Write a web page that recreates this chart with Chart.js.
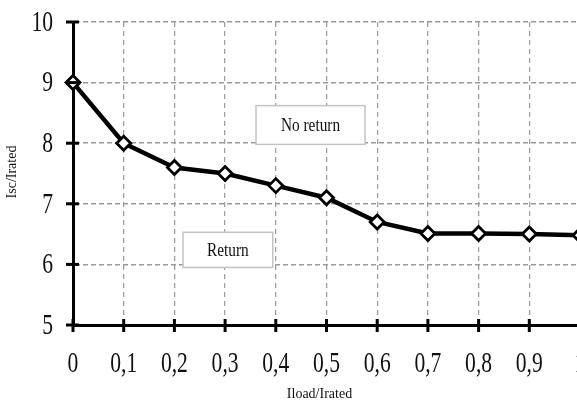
<!DOCTYPE html>
<html>
<head>
<meta charset="utf-8">
<script src="https://cdn.jsdelivr.net/npm/chart.js@4"></script>
<style>
  html, body { margin: 0; padding: 0; background: #fff; overflow: hidden; }
  #wrap { width: 600px; height: 403px; }
</style>
</head>
<body>
<div id="wrap"><canvas id="chart" width="600" height="403"></canvas></div>
<script>
const loadRatio = [0, 0.1, 0.2, 0.3, 0.4, 0.5, 0.6, 0.7, 0.8, 0.9, 1.0];
const iscRatio = [9, 8, 7.6, 7.5, 7.3, 7.1, 6.7, 6.51, 6.51, 6.5, 6.48];
const xTitle = 'Iload/Irated';
const yTitle = 'Isc/Irated';
const regionLabels = ['No return', 'Return'];

const serif = '"Liberation Serif", "DejaVu Serif", serif';

function fmtX(v) {
  if (Math.abs(v) < 1e-9) return '0';
  if (Math.abs(v - 1) < 1e-9) return '1';
  return v.toFixed(1).replace('.', ',');
}

// ticks crossing axes, condensed tick labels, titles and region boxes
const decor = {
  id: 'decor',
  afterDraw(chart) {
    const { ctx, chartArea: a, scales: { x, y } } = chart;
    ctx.save();

    // region boxes
    const boxes = [
      { text: regionLabels[0], x0: 0.361, x1: 0.576, y0: 8.62, y1: 7.98 },
      { text: regionLabels[1], x0: 0.217, x1: 0.394, y0: 6.53, y1: 5.95 }
    ];
    boxes.forEach(b => {
      const l = x.getPixelForValue(b.x0), r = x.getPixelForValue(b.x1);
      const t = y.getPixelForValue(b.y0), btm = y.getPixelForValue(b.y1);
      ctx.fillStyle = '#fff';
      ctx.fillRect(l, t, r - l, btm - t);
      ctx.strokeStyle = '#c4c4c4';
      ctx.lineWidth = 1.5;
      ctx.setLineDash([]);
      ctx.strokeRect(l, t, r - l, btm - t);
      ctx.fillStyle = '#111';
      ctx.font = '17px ' + serif;
      ctx.textAlign = 'center';
      ctx.textBaseline = 'middle';
      ctx.save();
      ctx.translate((l + r) / 2, (t + btm) / 2 + 1);
      ctx.scale(0.9, 1.05);
      ctx.fillText(b.text, 0, 0);
      ctx.restore();
    });

    // tick marks across axes
    ctx.strokeStyle = '#000';
    ctx.lineWidth = 3;
    x.ticks.forEach(t => {
      const px = x.getPixelForValue(t.value);
      ctx.beginPath();
      ctx.moveTo(px, a.bottom - 6);
      ctx.lineTo(px, a.bottom + 7);
      ctx.stroke();
    });
    y.ticks.forEach(t => {
      const py = y.getPixelForValue(t.value);
      ctx.beginPath();
      ctx.moveTo(a.left - 7, py);
      ctx.lineTo(a.left + 6, py);
      ctx.stroke();
    });

    // tick labels
    ctx.fillStyle = '#111';
    ctx.font = '30px ' + serif;
    ctx.textBaseline = 'middle';
    x.ticks.forEach(t => {
      const px = x.getPixelForValue(t.value);
      ctx.save();
      ctx.translate(px, a.bottom + 39);
      ctx.scale(0.72, 1);
      ctx.textAlign = 'center';
      ctx.fillText(fmtX(t.value), 0, 0);
      ctx.restore();
    });
    y.ticks.forEach(t => {
      const py = y.getPixelForValue(t.value);
      ctx.save();
      ctx.translate(a.left - 20, py + 1);
      ctx.scale(0.72, 1);
      ctx.textAlign = 'right';
      ctx.fillText(String(t.value), 0, 0);
      ctx.restore();
    });

    // axis titles
    ctx.font = '14px ' + serif;
    ctx.textAlign = 'center';
    ctx.fillText(xTitle, x.getPixelForValue(0.5) - 7, 394);
    ctx.save();
    ctx.translate(12, 172);
    ctx.rotate(-Math.PI / 2);
    ctx.fillText(yTitle, 0, 0);
    ctx.restore();

    ctx.restore();
  }
};

new Chart(document.getElementById('chart'), {
  type: 'line',
  data: {
    datasets: [{
      data: loadRatio.map((v, i) => ({ x: v, y: iscRatio[i] })),
      borderColor: '#000',
      borderWidth: 4.5,
      pointStyle: 'rectRot',
      pointRadius: 7,
      pointBorderWidth: 2.8,
      pointBackgroundColor: '#fff',
      pointBorderColor: '#000',
      tension: 0,
      clip: false
    }]
  },
  options: {
    responsive: false,
    animation: false,
    layout: { padding: { left: 73, right: 20, top: 22, bottom: 78 } },
    plugins: { legend: { display: false }, tooltip: { enabled: false } },
    scales: {
      x: {
        type: 'linear',
        min: 0,
        max: 1,
        ticks: { display: false, stepSize: 0.1 },
        grid: { color: '#a0a0a0', lineWidth: 1.3, drawTicks: false },
        border: { color: '#000', width: 3, dash: [5, 4] }
      },
      y: {
        min: 5,
        max: 10,
        ticks: { display: false, stepSize: 1 },
        grid: { color: '#999', lineWidth: 1.6, drawTicks: false },
        border: { color: '#000', width: 3, dash: [5, 3] }
      }
    }
  },
  plugins: [decor]
});
</script>
</body>
</html>
